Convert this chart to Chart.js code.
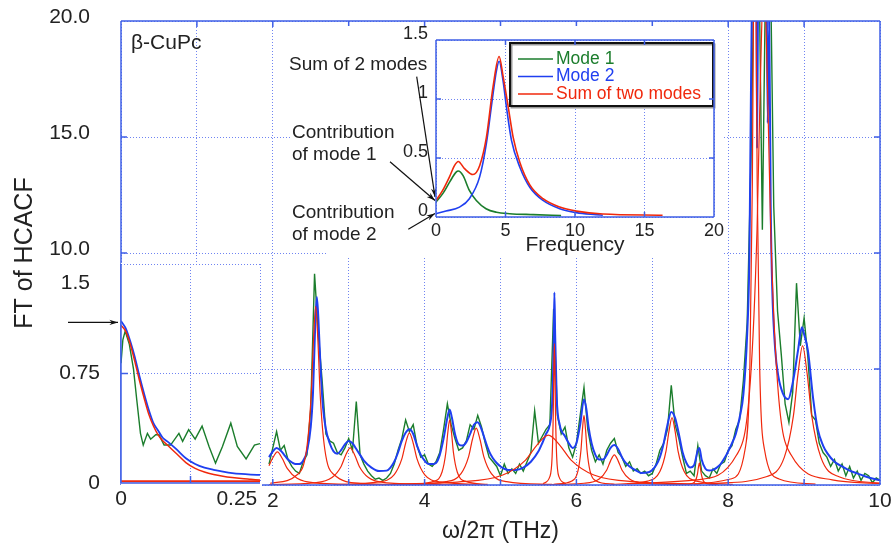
<!DOCTYPE html>
<html>
<head>
<meta charset="utf-8">
<title>FT of HCACF - β-CuPc</title>
<script src="https://cdn.jsdelivr.net/npm/chart.js@4.4.0/dist/chart.umd.min.js"></script>
<style>
  body { margin: 0; background: #fff; }
  #wrap { position: relative; width: 896px; height: 548px; }
  canvas { position: absolute; }
  #main { left: 0; top: 0; }
  #peak0 { left: 40px; top: 236px; }
  #modes { left: 288px; top: 26px; }
</style>
</head>
<body>
<div id="wrap">
  <canvas id="main" width="896" height="548"></canvas>
  <canvas id="peak0" width="226" height="279"></canvas>
  <canvas id="modes" width="438" height="232"></canvas>
</div>
<script>
Chart.defaults.font.family = "'Liberation Sans', Arial, sans-serif";
Chart.defaults.color = '#222';
Chart.defaults.animation = false;
Chart.defaults.events = [];
Chart.defaults.elements.point.radius = 0;
Chart.defaults.elements.line.fill = false;

const GREEN = '#1b7d2c', BLUE = '#1f3ff0', RED = '#f0280c';
const FRAME = '#3f5fe6', GRID = '#6f84f2', NONE = 'rgba(0,0,0,0)';

// raw FT of the heat current autocorrelation, 1.95 .. 10 THz every 0.05 THz
const rawStart = 1.95, rawStep = 0.05;
const rawFT = [
  0.9, 1.6, 2.3, 1.5, 1.7, 1.1, 0.8, 0.6, 0.5, 1.0,
  1.3, 3.3, 9.1, 6.5, 4.5, 2.2, 1.9, 1.8, 1.4, 1.3,
  1.6, 2.0, 1.5, 3.6, 1.3, 0.9, 0.6, 0.4, 0.25, 0.3,
  0.2, 0.3, 0.5, 0.9, 1.5, 2.0, 2.8, 2.3, 2.6, 1.7,
  1.2, 1.3, 0.9, 0.8, 1.0, 1.4, 2.4, 3.5, 2.6, 2.0,
  1.5, 1.6, 1.9, 2.6, 2.4, 3.0, 2.5, 1.8, 1.2, 1.0,
  0.8, 0.4, 0.9, 0.5, 0.7, 0.5, 0.9, 0.6, 1.0, 1.4,
  3.2, 1.8, 2.1, 2.4, 2.6, 7.6, 3.0, 2.2, 2.5, 1.6,
  1.2, 1.8, 3.0, 4.2, 2.4, 1.5, 1.0, 1.3, 0.9, 1.5,
  1.8, 2.0, 1.4, 1.2, 0.8, 1.0, 0.6, 0.7, 0.5, 0.6,
  0.4, 0.5, 0.9, 1.5, 1.8, 2.4, 4.3, 2.6, 2.0, 1.2,
  0.5, 0.6, 0.4, 1.7, 0.6, 0.4, 0.3, 0.7, 0.5, 0.9,
  1.0, 1.5, 1.7, 2.4, 2.8, 4.5, 7.0, 14, 24, 24,
  11, 24, 24, 12, 7.5, 5.6, 3.5, 2.7, 4.0, 8.7,
  6.0, 7.2, 5.5, 3.0, 2.8, 1.8, 1.4, 1.2, 0.8, 1.1,
  0.6, 0.9, 0.4, 0.8, 0.3, 0.6, 0.2, 0.5, 0.4, 0.1,
  0.3, 0.2
];

// fitted total [THz, value]
const fitTotal = [
  [1.95,1.2],[2.0,1.45],[2.05,1.6],[2.1,1.5],[2.15,1.3],[2.2,1.1],[2.25,0.98],[2.3,0.9],[2.35,0.9],[2.4,1.05],
  [2.45,1.45],[2.5,2.5],[2.53,4.0],[2.56,7.0],[2.58,8.1],[2.6,7.2],[2.63,5.0],[2.66,3.4],[2.7,2.4],[2.75,1.8],
  [2.8,1.45],[2.85,1.35],[2.9,1.5],[2.95,1.75],[3.0,1.9],[3.05,1.8],[3.1,1.55],[3.15,1.3],[3.2,1.05],[3.3,0.75],
  [3.4,0.6],[3.5,0.62],[3.55,0.75],[3.6,1.0],[3.65,1.4],[3.7,1.9],[3.75,2.25],[3.8,2.4],[3.85,2.2],[3.9,1.7],
  [3.95,1.3],[4.0,1.05],[4.05,0.9],[4.1,0.9],[4.15,0.95],[4.2,1.3],[4.25,2.0],[4.3,2.9],[4.33,3.25],[4.36,2.9],
  [4.4,2.2],[4.45,1.75],[4.5,1.7],[4.55,1.85],[4.6,2.2],[4.65,2.6],[4.7,2.7],[4.75,2.4],[4.8,1.9],[4.85,1.45],
  [4.9,1.15],[4.95,0.95],[5.0,0.8],[5.05,0.7],[5.1,0.65],[5.2,0.65],[5.3,0.75],[5.4,1.0],[5.5,1.45],[5.55,1.8],
  [5.6,2.2],[5.65,2.6],[5.68,3.5],[5.7,6.0],[5.71,8.3],[5.72,6.5],[5.74,3.8],[5.78,2.6],[5.85,2.1],[5.9,1.8],
  [5.95,1.6],[6.0,1.8],[6.05,2.6],[6.1,3.7],[6.13,3.3],[6.16,2.5],[6.2,1.8],[6.25,1.3],[6.3,1.1],[6.35,1.1],
  [6.4,1.3],[6.45,1.6],[6.5,1.72],[6.55,1.55],[6.6,1.2],[6.65,0.95],[6.7,0.8],[6.8,0.6],[6.85,0.52],[6.95,0.55],
  [7.0,0.65],[7.05,0.85],[7.1,1.2],[7.15,1.8],[7.2,2.6],[7.25,3.15],[7.3,2.9],[7.35,2.2],[7.4,1.4],[7.45,0.95],
  [7.5,0.75],[7.55,0.85],[7.6,1.5],[7.62,1.6],[7.65,1.1],[7.7,0.7],[7.75,0.62],[7.8,0.65],[7.85,0.75],[7.9,0.9],
  [7.95,1.15],[8.0,1.45],[8.05,1.8],[8.1,2.2],[8.15,2.9],[8.2,3.9],[8.25,6.5],[8.28,10],[8.3,17],[8.33,24],
  [8.37,24],[8.38,14.5],[8.4,24],[8.5,24],[8.52,15.6],[8.54,20],[8.56,12],[8.58,8.5],[8.62,5.8],[8.66,4.7],
  [8.72,3.95],[8.79,3.7],[8.85,4.4],[8.92,5.8],[8.97,6.8],[9.0,6.5],[9.05,5.8],[9.12,3.7],[9.18,2.4],[9.25,1.7],
  [9.31,1.35],[9.4,1.0],[9.5,0.8],[9.6,0.62],[9.7,0.5],[9.8,0.38],[9.9,0.28],[10.0,0.2]
];

// single Lorentzian modes
const mode206 = [[1.95,0.83],[1.995,1.14],[2.06,1.43],[2.125,1.14],[2.19,0.715],[2.32,0.286],[2.58,0.084],[3.36,0.014],[4.6,0.004]];
const mode257 = [[1.965,0.076],[2.325,0.45],[2.445,1.54],[2.505,3.85],[2.535,6.16],[2.565,7.7],[2.595,6.16],[2.625,3.85],[2.685,1.54],[2.805,0.45],[3.165,0.076],[4.065,0.012]];
const mode302 = [[1.95,0.02],[2.54,0.094],[2.78,0.32],[2.9,0.8],[2.96,1.28],[3.02,1.6],[3.08,1.28],[3.14,0.8],[3.26,0.32],[3.5,0.094],[4.22,0.016]];
const mode380 = [[2.8,0.022],[3.4,0.132],[3.6,0.45],[3.7,1.125],[3.75,1.8],[3.8,2.25],[3.85,1.8],[3.9,1.125],[4.0,0.45],[4.2,0.132],[4.8,0.022]];
const mode433 = [[3.83,0.028],[4.13,0.165],[4.23,0.56],[4.28,1.4],[4.305,2.24],[4.33,2.8],[4.355,2.24],[4.38,1.4],[4.43,0.56],[4.53,0.165],[4.83,0.028]];
const mode468 = [[3.68,0.024],[4.28,0.144],[4.48,0.49],[4.58,1.225],[4.63,1.96],[4.68,2.45],[4.73,1.96],[4.78,1.225],[4.88,0.49],[5.08,0.144],[5.68,0.024]];
const mode563 = [[3.63,0.046],[4.43,0.126],[5.03,0.43],[5.33,1.075],[5.48,1.72],[5.63,2.15],[5.78,1.72],[5.93,1.075],[6.23,0.43],[6.83,0.126],[7.63,0.046]];
const mode571 = [[5.56,0.06],[5.65,0.36],[5.68,1.22],[5.695,3.05],[5.7025,4.88],[5.71,6.1],[5.7175,4.88],[5.725,3.05],[5.74,1.22],[5.77,0.36],[5.86,0.06]];
const mode610 = [[5.7,0.03],[5.94,0.176],[6.02,0.6],[6.06,1.5],[6.08,2.4],[6.1,3.0],[6.12,2.4],[6.14,1.5],[6.18,0.6],[6.26,0.176],[6.5,0.03]];
const mode650 = [[5.5,0.013],[6.1,0.076],[6.3,0.26],[6.4,0.65],[6.45,1.04],[6.5,1.3],[6.55,1.04],[6.6,0.65],[6.7,0.26],[6.9,0.076],[7.5,0.013]];
const mode726 = [[6.46,0.029],[6.94,0.17],[7.1,0.58],[7.18,1.45],[7.22,2.32],[7.26,2.9],[7.3,2.32],[7.34,1.45],[7.42,0.58],[7.58,0.17],[8.06,0.029]];
const mode762 = [[7.37,0.009],[7.52,0.056],[7.57,0.19],[7.595,0.475],[7.6075,0.76],[7.62,0.95],[7.6325,0.76],[7.645,0.475],[7.67,0.19],[7.72,0.056],[7.87,0.009]];
const mode835 = [[7.55,0.04],[8.03,0.26],[8.222,1.53],[8.286,5.2],[8.318,13],[8.334,20.8],[8.35,26],[8.366,20.8],[8.382,13],[8.414,5.2],[8.478,1.53],[8.67,0.26],[9.15,0.04]];
const mode847 = [[6.67,0.055],[7.57,0.22],[8.11,1.29],[8.29,4.4],[8.38,11],[8.425,17.6],[8.47,22],[8.515,17.6],[8.56,11],[8.65,4.4],[8.83,1.29],[9.37,0.22],[10,0.064]];
const mode898 = [[7.78,0.06],[8.5,0.353],[8.74,1.2],[8.86,3.0],[8.92,4.8],[8.98,6.0],[9.04,4.8],[9.1,3.0],[9.22,1.2],[9.46,0.353],[10,0.082]];
const modeCurves = [mode206, mode257, mode302, mode380, mode433, mode468, mode563, mode571,
                    mode610, mode650, mode726, mode762, mode835, mode847, mode898];

// low frequency end, 0 .. 0.3 THz
const lowRaw = [[0,0.82],[0.004,0.98],[0.009,1.04],[0.018,0.95],[0.027,0.78],[0.034,0.57],[0.042,0.34],[0.048,0.26],
  [0.057,0.34],[0.064,0.3],[0.075,0.33],[0.082,0.33],[0.093,0.26],[0.107,0.26],[0.125,0.34],[0.133,0.285],
  [0.146,0.365],[0.16,0.3],[0.175,0.39],[0.19,0.25],[0.204,0.136],[0.219,0.25],[0.237,0.41],[0.251,0.25],
  [0.27,0.165],[0.288,0.26],[0.3,0.27]];
const lowFreq = [0,0.01,0.02,0.03,0.04,0.05,0.06,0.07,0.08,0.09,0.1,0.12,0.14,0.16,0.18,0.2,0.22,0.24,0.26,0.28,0.3];
const lowFit = [1.11,1.06,0.97,0.86,0.73,0.61,0.5,0.41,0.36,0.31,0.285,0.23,0.17,0.13,0.105,0.09,0.078,0.068,0.062,0.058,0.055];
const lowMode1 = [1.08,1.04,0.95,0.83,0.7,0.58,0.47,0.39,0.33,0.29,0.26,0.2,0.14,0.1,0.075,0.058,0.046,0.037,0.03,0.025,0.02];
const lowMode2 = [[0,0.012],[0.3,0.012]];
const arrowValue = 1.1;

// two-mode example (frequency, value)
const exMode1 = [[0,0.126],[0.5,0.2],[1.0,0.3],[1.45,0.38],[1.6,0.39],[1.95,0.35],[2.4,0.225],[2.9,0.14],[3.6,0.07],[4.35,0.04],[5.3,0.028],[7,0.02],[9,0.012]];
const exMode2 = [[0,0.028],[0.72,0.05],[1.69,0.084],[2.4,0.155],[3.14,0.34],[3.62,0.62],[4.1,1.04],[4.35,1.24],[4.54,1.32],[4.83,1.15],[5.07,0.93],[5.43,0.65],[6.04,0.42],[6.76,0.25],[7.7,0.14],[8.9,0.07],[10.1,0.037],[11.5,0.02],[12,0.015]];
const exSum = [[0,0.14],[0.48,0.225],[0.97,0.34],[1.33,0.435],[1.6,0.47],[2.05,0.41],[2.66,0.36],[3.14,0.435],[3.62,0.67],[4.1,1.1],[4.54,1.36],[4.83,1.19],[5.2,0.93],[5.56,0.67],[6.04,0.46],[6.76,0.27],[7.7,0.155],[8.9,0.084],[10.1,0.05],[12,0.025],[16.3,0.015]];
const exLabels = ['Mode 1', 'Mode 2', 'Sum of two modes'];

const toXY = pts => pts.map(p => ({ x: p[0], y: p[1] }));
const font = (size) => ({ size: size });

// solid frame round the plot area plus short inward ticks
function framePlugin(sides, tickLen, keepTick) {
  return {
    id: 'frame',
    afterDraw(chart) {
      const { ctx, chartArea: a, scales: { x, y } } = chart;
      ctx.save();
      ctx.strokeStyle = FRAME;
      ctx.lineWidth = 1.5;
      ctx.beginPath();
      if (sides.includes('left')) { ctx.moveTo(a.left, a.top); ctx.lineTo(a.left, a.bottom); }
      if (sides.includes('right')) { ctx.moveTo(a.right, a.top); ctx.lineTo(a.right, a.bottom); }
      if (sides.includes('top')) { ctx.moveTo(a.left, a.top); ctx.lineTo(a.right, a.top); }
      if (sides.includes('bottom')) { ctx.moveTo(a.left, a.bottom); ctx.lineTo(a.right, a.bottom); }
      x.ticks.forEach(t => {
        if (keepTick && !keepTick('x', t.value)) return;
        const px = x.getPixelForValue(t.value);
        if (sides.includes('bottom')) { ctx.moveTo(px, a.bottom); ctx.lineTo(px, a.bottom - tickLen); }
        if (sides.includes('top')) { ctx.moveTo(px, a.top); ctx.lineTo(px, a.top + tickLen); }
      });
      y.ticks.forEach(t => {
        if (keepTick && !keepTick('y', t.value)) return;
        const py = y.getPixelForValue(t.value);
        if (sides.includes('left')) { ctx.moveTo(a.left, py); ctx.lineTo(a.left + tickLen, py); }
        if (sides.includes('right')) { ctx.moveTo(a.right, py); ctx.lineTo(a.right - tickLen, py); }
      });
      ctx.stroke();
      ctx.restore();
    }
  };
}

function arrow(ctx, x1, y1, x2, y2) {
  const ang = Math.atan2(y2 - y1, x2 - x1);
  ctx.beginPath();
  ctx.moveTo(x1, y1);
  ctx.lineTo(x2, y2);
  ctx.stroke();
  ctx.beginPath();
  ctx.moveTo(x2, y2);
  ctx.lineTo(x2 - 9 * Math.cos(ang - 0.3), y2 - 9 * Math.sin(ang - 0.3));
  ctx.lineTo(x2 - 6 * Math.cos(ang), y2 - 6 * Math.sin(ang));
  ctx.lineTo(x2 - 9 * Math.cos(ang + 0.3), y2 - 9 * Math.sin(ang + 0.3));
  ctx.closePath();
  ctx.fill();
}

const gridDash = [1, 2];

// ---------- main spectrum ----------
const mainSets = [
  { data: rawFT.map((v, i) => ({ x: +(rawStart + i * rawStep).toFixed(2), y: v })),
    borderColor: GREEN, borderWidth: 1.4, tension: 0, order: 2 },
  { data: toXY(fitTotal), borderColor: BLUE, borderWidth: 2, cubicInterpolationMode: 'monotone', order: 1 }
];
modeCurves.forEach(m => {
  mainSets.push({ data: toXY(m), borderColor: RED, borderWidth: 1.2, cubicInterpolationMode: 'monotone', order: 0 });
});

new Chart(document.getElementById('main'), {
  type: 'line',
  data: { datasets: mainSets },
  options: {
    responsive: false,
    layout: { padding: { top: 21, right: 16, bottom: 0, left: 0 } },
    plugins: { legend: { display: false }, tooltip: { enabled: false } },
    scales: {
      x: {
        type: 'linear', min: 0, max: 10,
        grid: { color: GRID, lineWidth: 1, drawTicks: false, borderDash: gridDash },
        border: { display: false, dash: gridDash },
        ticks: { stepSize: 1, autoSkip: false, maxRotation: 0, padding: 4, font: font(21),
                 callback: v => (v >= 2 && v % 2 === 0 ? String(v) : '') },
        title: { display: true, text: 'ω/2π (THz)', font: font(23), color: '#222', padding: { top: 0, bottom: 3 } },
        afterFit: s => { s.height = 63; s.paddingLeft = 0; s.paddingRight = 0; }
      },
      y: {
        min: 0, max: 20,
        grid: { color: GRID, lineWidth: 1, drawTicks: false, borderDash: gridDash },
        border: { display: false, dash: gridDash },
        ticks: { stepSize: 5, padding: 31, labelOffset: -4, font: font(21),
                 callback: v => (v >= 10 ? v.toFixed(1) : '') },
        title: { display: true, text: 'FT of HCACF', font: font(25), color: '#222', padding: { top: 10, bottom: 0 } },
        afterFit: s => { s.width = 121; s.paddingTop = 0; s.paddingBottom = 0; }
      }
    }
  },
  plugins: [framePlugin(['left', 'right', 'top', 'bottom'], 6), {
    id: 'tag',
    afterDraw(chart) {
      const ctx = chart.ctx;
      ctx.save();
      ctx.font = "21px 'Liberation Sans', Arial, sans-serif";
      ctx.fillStyle = '#222';
      ctx.textBaseline = 'middle';
      ctx.fillText('β-CuPc', chart.chartArea.left + 10, chart.chartArea.top + 22);
      ctx.restore();
    }
  }]
});

// ---------- 0 .. 0.3 THz close-up ----------
new Chart(document.getElementById('peak0'), {
  type: 'line',
  data: { datasets: [
    { data: toXY(lowRaw), borderColor: GREEN, borderWidth: 1.4, tension: 0, order: 2 },
    { data: lowFreq.map((f, i) => ({ x: f, y: lowFit[i] })), borderColor: BLUE, borderWidth: 1.8, cubicInterpolationMode: 'monotone', order: 1 },
    { data: lowFreq.map((f, i) => ({ x: f, y: lowMode1[i] })), borderColor: RED, borderWidth: 1.5, cubicInterpolationMode: 'monotone', order: 0 },
    { data: toXY(lowMode2), borderColor: RED, borderWidth: 2, order: 0 }
  ] },
  options: {
    responsive: false,
    layout: { padding: { top: 28, right: 6, bottom: 0, left: 0 } },
    plugins: { legend: { display: false }, tooltip: { enabled: false } },
    scales: {
      x: {
        type: 'linear', min: 0, max: 0.3,
        afterBuildTicks: s => { s.ticks = [0, 0.15, 0.25, 0.3].map(v => ({ value: v })); },
        grid: { color: c => (c.tick && (c.tick.value === 0.15 || c.tick.value === 0.3) ? GRID : NONE),
                lineWidth: 1, drawTicks: false, borderDash: gridDash },
        border: { display: false, dash: gridDash },
        ticks: { autoSkip: false, maxRotation: 0, padding: 4, font: font(21),
                 callback: v => (v === 0 ? '0' : v === 0.25 ? '0.25' : '') },
        afterFit: s => { s.height = 32; s.paddingLeft = 0; s.paddingRight = 0; }
      },
      y: {
        min: 0, max: 1.5,
        grid: { color: c => (c.tick && c.tick.value > 0 ? GRID : NONE), lineWidth: 1, drawTicks: false, borderDash: gridDash },
        border: { display: false, dash: gridDash },
        ticks: { stepSize: 0.75, padding: 21, font: font(21), callback: v => (v === 1.5 ? '' : String(v)) },
        afterFit: s => { s.width = 81; s.paddingTop = 0; s.paddingBottom = 0; }
      }
    }
  },
  plugins: [{
    id: 'paper',
    beforeDraw(chart) {
      const a = chart.chartArea;
      chart.ctx.save();
      chart.ctx.fillStyle = '#fff';
      chart.ctx.fillRect(a.left, a.top - 1, a.right - a.left + 2, a.bottom - a.top + 4);
      chart.ctx.restore();
    },
    afterDraw(chart) {
      const { ctx, chartArea: a, scales: { x, y } } = chart;
      ctx.save();
      ctx.font = "21px 'Liberation Sans', Arial, sans-serif";
      ctx.fillStyle = '#222';
      ctx.textAlign = 'right';
      ctx.textBaseline = 'middle';
      ctx.fillText('1.5', a.left - 31, y.getPixelForValue(1.5) + 19);
      ctx.strokeStyle = '#111';
      ctx.fillStyle = '#111';
      ctx.lineWidth = 1.3;
      arrow(ctx, 28, y.getPixelForValue(arrowValue), x.getPixelForValue(0) - 3, y.getPixelForValue(arrowValue));
      ctx.restore();
    }
  }, framePlugin(['left', 'bottom'], 7, (axis, v) => (axis === 'x' ? v === 0.15 : v === 0.75))]
});

// ---------- two-mode example ----------
const notes = [
  { lines: ['Sum of 2 modes'], x: 1, y: 39, tail: [128.7, 50.7], tip: 0.17 },
  { lines: ['Contribution', 'of mode 1'], x: 4, y: 107, tail: [102, 135.7], tip: 0.14 },
  { lines: ['Contribution', 'of mode 2'], x: 4, y: 187, tail: [120.3, 203.3], tip: 0.03 }
];

new Chart(document.getElementById('modes'), {
  type: 'line',
  data: { datasets: [
    { label: exLabels[0], data: toXY(exMode1), borderColor: GREEN, borderWidth: 1.6, cubicInterpolationMode: 'monotone', order: 2 },
    { label: exLabels[1], data: toXY(exMode2), borderColor: BLUE, borderWidth: 1.6, cubicInterpolationMode: 'monotone', order: 1 },
    { label: exLabels[2], data: toXY(exSum), borderColor: RED, borderWidth: 1.6, cubicInterpolationMode: 'monotone', order: 0 }
  ] },
  options: {
    responsive: false,
    layout: { padding: { top: 14, right: 12, bottom: 0, left: 0 } },
    plugins: { legend: { display: false }, tooltip: { enabled: false } },
    scales: {
      x: {
        type: 'linear', min: 0, max: 20,
        grid: { color: GRID, lineWidth: 1, drawTicks: false, borderDash: gridDash },
        border: { display: false, dash: gridDash },
        ticks: { stepSize: 5, autoSkip: false, maxRotation: 0, padding: 3, font: font(18) },
        title: { display: true, text: 'Frequency', font: font(21), color: '#222', padding: { top: 0, bottom: 0 } },
        afterFit: s => { s.height = 41; s.paddingLeft = 0; s.paddingRight = 0; }
      },
      y: {
        min: 0, max: 1.5,
        grid: { color: GRID, lineWidth: 1, drawTicks: false, borderDash: gridDash },
        border: { display: false, dash: gridDash },
        ticks: { stepSize: 0.5, padding: 8, labelOffset: -6, font: font(18), callback: v => String(+v) },
        afterFit: s => { s.width = 148; s.paddingTop = 0; s.paddingBottom = 0; }
      }
    }
  },
  plugins: [{
    id: 'paper',
    beforeDraw(chart) {
      const a = chart.chartArea;
      chart.ctx.save();
      chart.ctx.fillStyle = '#fff';
      chart.ctx.fillRect(39, 0, a.right + 8 - 39, chart.height);
      chart.ctx.restore();
    },
    afterDraw(chart) {
      const { ctx, chartArea: a, scales: { x, y } } = chart;
      ctx.save();
      // notes with their arrows
      ctx.font = "19px 'Liberation Sans', Arial, sans-serif";
      ctx.textBaseline = 'middle';
      notes.forEach(n => {
        n.lines.forEach((t, i) => {
          const w = ctx.measureText(t).width;
          ctx.fillStyle = '#fff';
          ctx.fillRect(n.x - 2, n.y + i * 22 - 12, w + 4, 24);
          ctx.fillStyle = '#222';
          ctx.fillText(t, n.x, n.y + i * 22);
        });
      });
      ctx.strokeStyle = '#111';
      ctx.fillStyle = '#111';
      ctx.lineWidth = 1.2;
      notes.forEach(n => arrow(ctx, n.tail[0], n.tail[1], x.getPixelForValue(0) - 1, y.getPixelForValue(n.tip)));
      // legend box
      const bx = 222, by = 17, bw = 203, bh = 63;
      ctx.fillStyle = '#fff';
      ctx.fillRect(bx, by, bw, bh);
      ctx.strokeStyle = '#999';
      ctx.lineWidth = 2;
      ctx.strokeRect(bx + 1.5, by + 1.5, bw, bh);
      ctx.strokeStyle = '#111';
      ctx.strokeRect(bx, by, bw, bh);
      ctx.font = "17.5px 'Liberation Sans', Arial, sans-serif";
      chart.data.datasets.forEach((ds, i) => {
        const ry = by + 16 + i * 17.5;
        ctx.strokeStyle = ds.borderColor;
        ctx.lineWidth = 1.6;
        ctx.beginPath();
        ctx.moveTo(bx + 8, ry);
        ctx.lineTo(bx + 43, ry);
        ctx.stroke();
        ctx.fillStyle = ds.borderColor;
        ctx.fillText(ds.label, bx + 46, ry);
      });
      ctx.restore();
    }
  }, framePlugin(['left', 'right', 'top', 'bottom'], 5)]
});
</script>
</body>
</html>
